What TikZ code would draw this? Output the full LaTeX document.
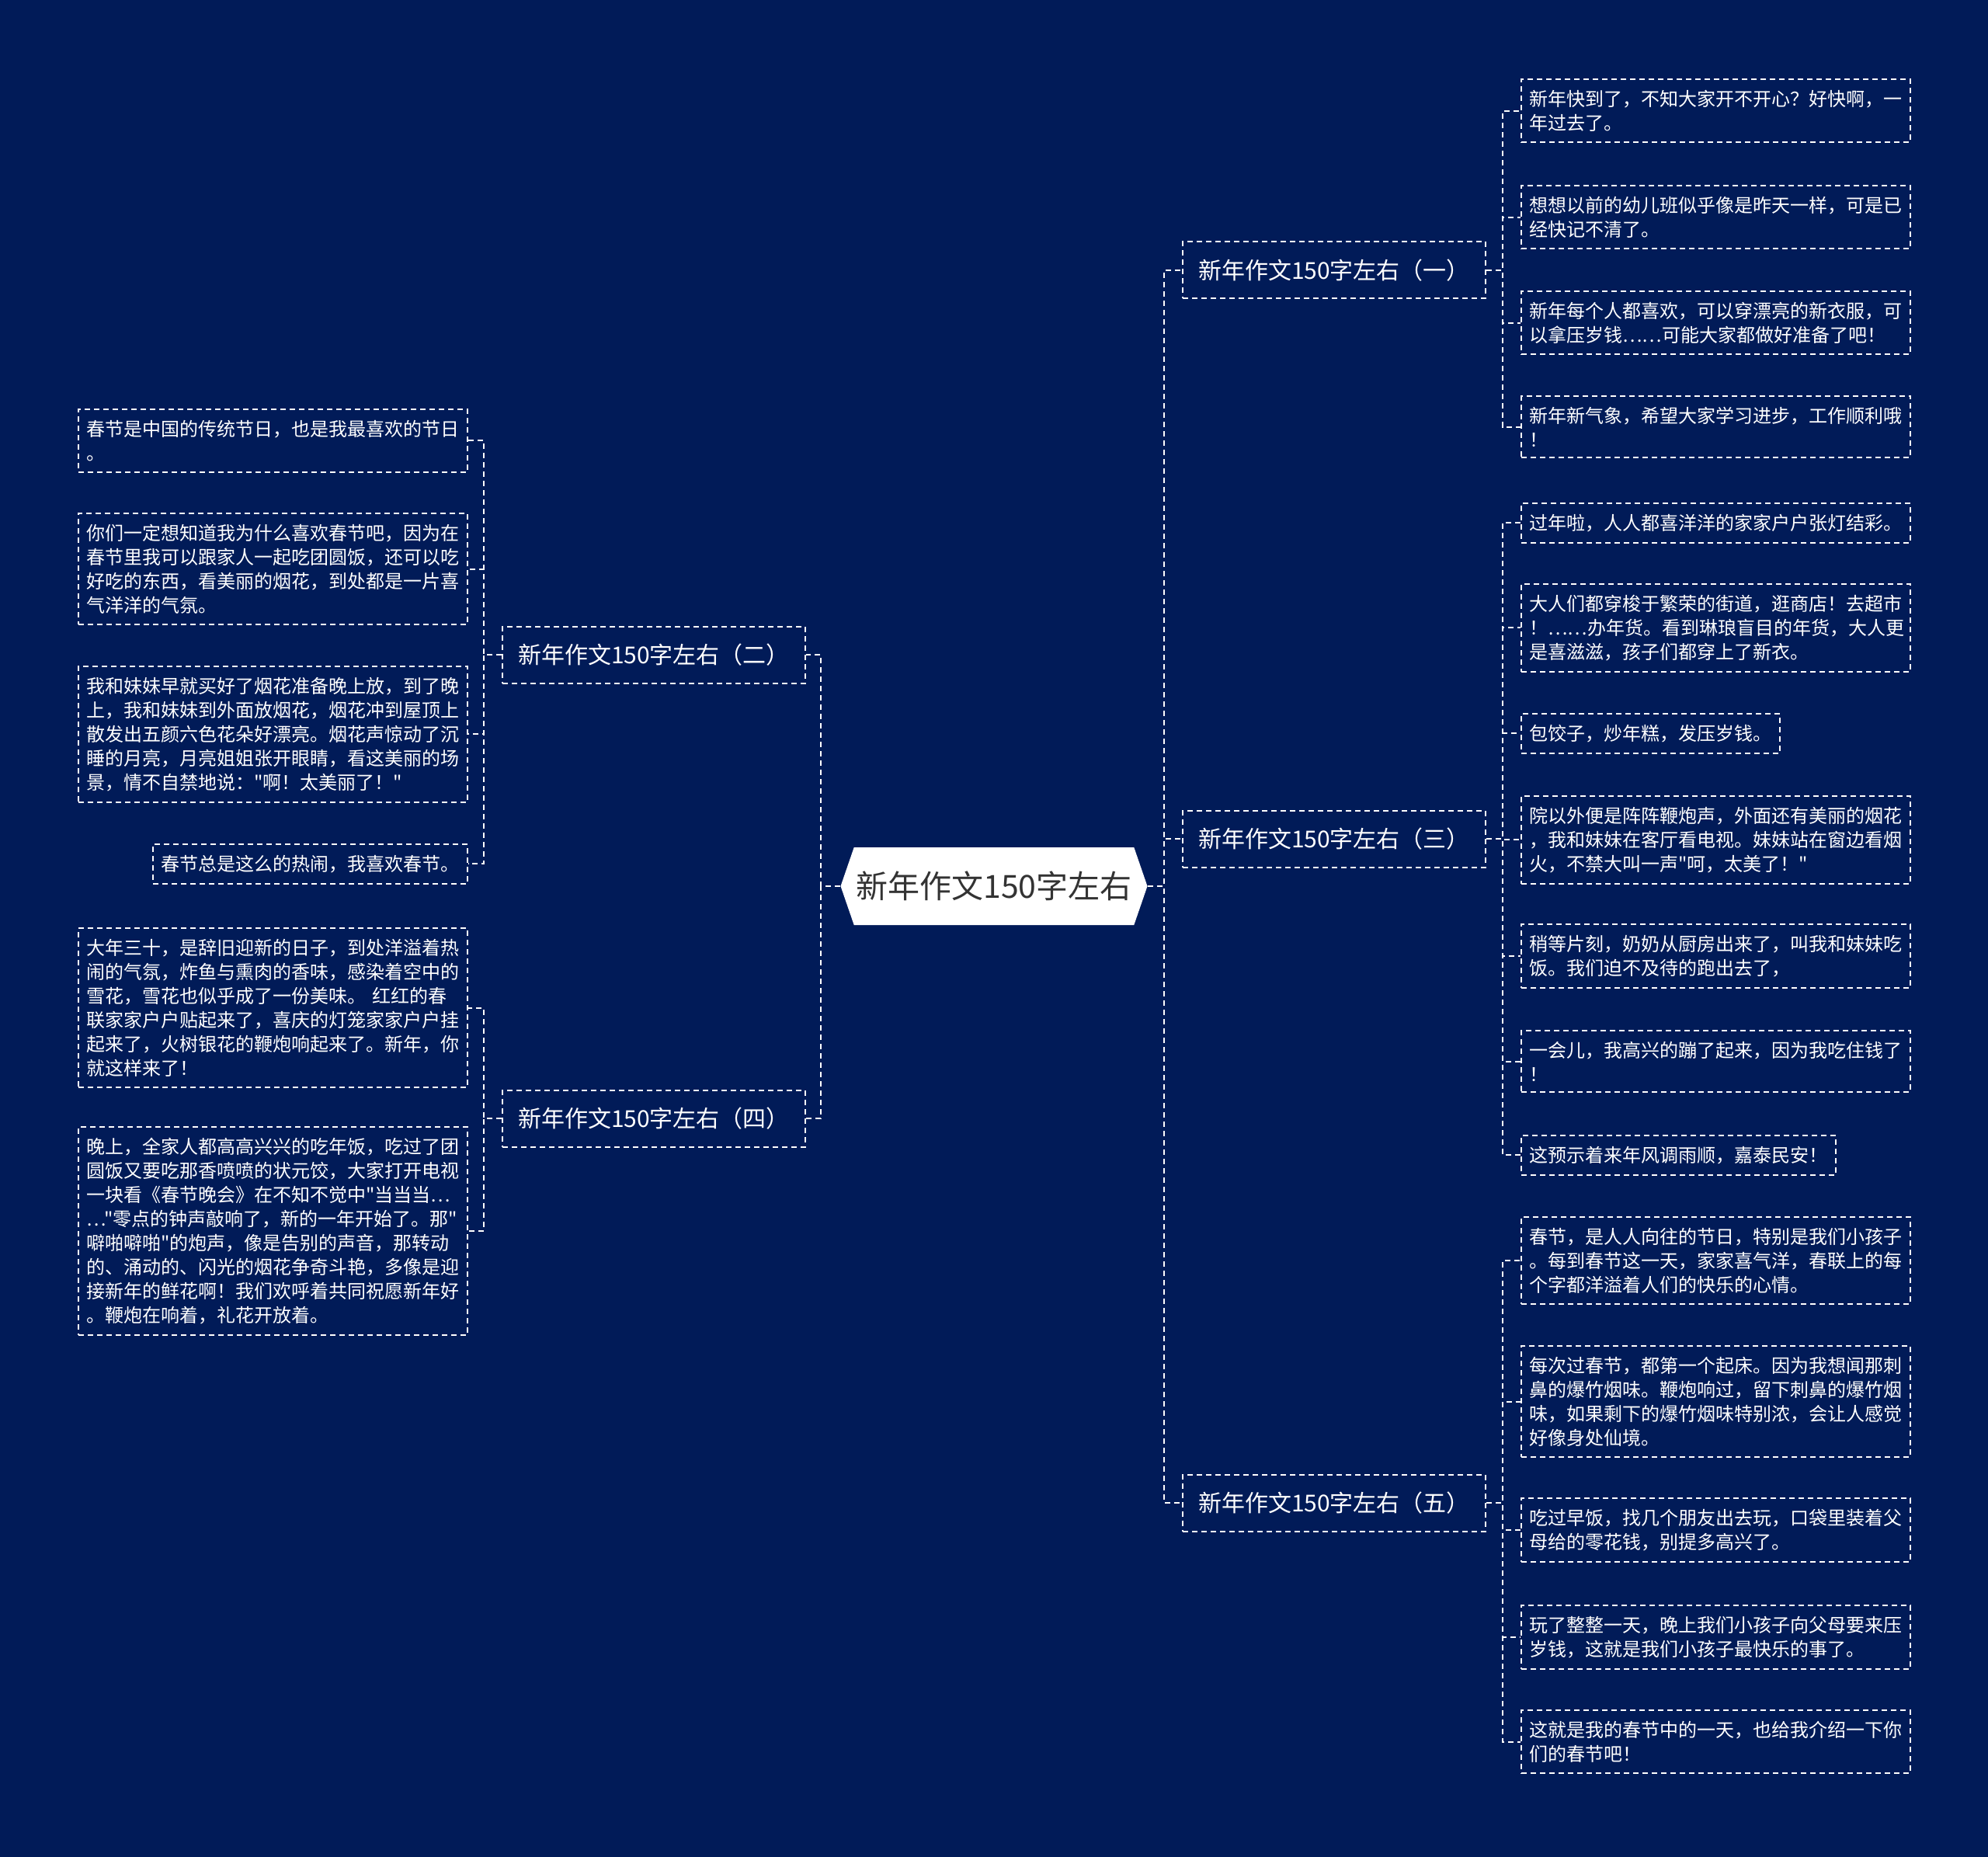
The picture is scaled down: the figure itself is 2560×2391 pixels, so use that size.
\documentclass[tikz,border=0pt]{standalone}
\usepackage{fontspec}
\newfontfamily\cjk{Noto Sans CJK SC}
\usetikzlibrary{shapes.symbols}
\definecolor{bgnavy}{RGB}{1,27,88}
\definecolor{rootgray}{RGB}{51,51,51}

\begin{document}
\begin{tikzpicture}[x=0.5pt, y=-0.5pt,
    link/.style={white, line width=1pt, dash pattern=on 3.5pt off 2.5pt},
    leaf/.style={draw=white, line width=1pt, dash pattern=on 3.5pt off 2.5pt, text=white,
        font=\cjk\fontsize{12pt}{15.5pt}\selectfont, inner xsep=5.25pt, inner ysep=7pt, align=left},
    wide/.style={leaf, text width=240pt},
    branch/.style={draw=white, line width=1pt, dash pattern=on 3.5pt off 2.5pt, text=white,
        font=\cjk\fontsize{15pt}{18pt}\selectfont, minimum width=195pt, minimum height=36.5pt, inner sep=0pt},
    rootbox/.style={signal, signal to=east and west, signal pointer angle=142, fill=white,
        text=rootgray, font=\cjk\fontsize{20.5pt}{24pt}\selectfont, minimum width=197.5pt,
        minimum height=50pt, inner sep=0pt}]
    \fill[bgnavy] (0,0) rectangle (2560,2391);

    \node[rootbox] (root) at (1280,1141) {新年作文150字左右};

    \node[branch] (one) at (1718,348) {新年作文150字左右（一）};
    \node[branch] (three) at (1718,1080) {新年作文150字左右（三）};
    \node[branch] (five) at (1718,1935) {新年作文150字左右（五）};
    \node[branch] (two) at (842,843) {新年作文150字左右（二）};
    \node[branch] (four) at (842,1440) {新年作文150字左右（四）};

    % right side, first branch
    \node[wide, anchor=north west] (a1) at (1958,101) {新年快到了，不知大家开不开心？好快啊，一\\年过去了。};
    \node[wide, anchor=north west] (a2) at (1958,238) {想想以前的幼儿班似乎像是昨天一样，可是已\\经快记不清了。};
    \node[wide, anchor=north west] (a3) at (1958,374) {新年每个人都喜欢，可以穿漂亮的新衣服，可\\以拿压岁钱……可能大家都做好准备了吧！};
    \node[wide, anchor=north west] (a4) at (1958,509) {新年新气象，希望大家学习进步，工作顺利哦\\！};

    % right side, third branch
    \node[wide, anchor=north west] (c1) at (1958,647) {过年啦，人人都喜洋洋的家家户户张灯结彩。};
    \node[wide, anchor=north west] (c2) at (1958,751) {大人们都穿梭于繁荣的街道，逛商店！去超市\\！……办年货。看到琳琅盲目的年货，大人更\\是喜滋滋，孩子们都穿上了新衣。};
    \node[leaf, anchor=north west] (c3) at (1958,918) {包饺子，炒年糕，发压岁钱。};
    \node[wide, anchor=north west] (c4) at (1958,1024) {院以外便是阵阵鞭炮声，外面还有美丽的烟花\\，我和妹妹在客厅看电视。妹妹站在窗边看烟\\火，不禁大叫一声"呵，太美了！"};
    \node[wide, anchor=north west] (c5) at (1958,1189) {稍等片刻，奶奶从厨房出来了，叫我和妹妹吃\\饭。我们迫不及待的跑出去了，};
    \node[wide, anchor=north west] (c6) at (1958,1326) {一会儿，我高兴的蹦了起来，因为我吃住钱了\\！};
    \node[leaf, anchor=north west] (c7) at (1958,1461) {这预示着来年风调雨顺，嘉泰民安！};

    % right side, fifth branch
    \node[wide, anchor=north west] (e1) at (1958,1566) {春节，是人人向往的节日，特别是我们小孩子\\。每到春节这一天，家家喜气洋，春联上的每\\个字都洋溢着人们的快乐的心情。};
    \node[wide, anchor=north west] (e2) at (1958,1732) {每次过春节，都第一个起床。因为我想闻那刺\\鼻的爆竹烟味。鞭炮响过，留下刺鼻的爆竹烟\\味，如果剩下的爆竹烟味特别浓，会让人感觉\\好像身处仙境。};
    \node[wide, anchor=north west] (e3) at (1958,1928) {吃过早饭，找几个朋友出去玩，口袋里装着父\\母给的零花钱，别提多高兴了。};
    \node[wide, anchor=north west] (e4) at (1958,2066) {玩了整整一天，晚上我们小孩子向父母要来压\\岁钱，这就是我们小孩子最快乐的事了。};
    \node[wide, anchor=north west] (e5) at (1958,2201) {这就是我的春节中的一天，也给我介绍一下你\\们的春节吧！};

    % left side, second branch
    \node[wide, anchor=north east] (b1) at (603,526) {春节是中国的传统节日，也是我最喜欢的节日\\。};
    \node[wide, anchor=north east] (b2) at (603,660) {你们一定想知道我为什么喜欢春节吧，因为在\\春节里我可以跟家人一起吃团圆饭，还可以吃\\好吃的东西，看美丽的烟花，到处都是一片喜\\气洋洋的气氛。};
    \node[wide, anchor=north east] (b3) at (603,857) {我和妹妹早就买好了烟花准备晚上放，到了晚\\上，我和妹妹到外面放烟花，烟花冲到屋顶上\\散发出五颜六色花朵好漂亮。烟花声惊动了沉\\睡的月亮，月亮姐姐张开眼睛，看这美丽的场\\景，情不自禁地说："啊！太美丽了！"};
    \node[leaf, anchor=north east] (b4) at (603,1086) {春节总是这么的热闹，我喜欢春节。};

    % left side, fourth branch
    \node[wide, anchor=north east] (d1) at (603,1194) {大年三十，是辞旧迎新的日子，到处洋溢着热\\闹的气氛，炸鱼与熏肉的香味，感染着空中的\\雪花，雪花也似乎成了一份美味。 红红的春\\联家家户户贴起来了，喜庆的灯笼家家户户挂\\起来了，火树银花的鞭炮响起来了。新年，你\\就这样来了！};
    \node[wide, anchor=north east] (d2) at (603,1450) {晚上，全家人都高高兴兴的吃年饭，吃过了团\\圆饭又要吃那香喷喷的状元饺，大家打开电视\\一块看《春节晚会》在不知不觉中"当当当…\\…"零点的钟声敲响了，新的一年开始了。那"\\噼啪噼啪"的炮声，像是告别的声音，那转动\\的、涌动的、闪光的烟花争奇斗艳，多像是迎\\接新年的鲜花啊！我们欢呼着共同祝愿新年好\\。鞭炮在响着，礼花开放着。};

    \foreach \n in {one,three,five} \draw[link] (root.east) -- ++(21,0) |- (\n.west);
    \foreach \n in {two,four} \draw[link] (root.west) -- ++(-25,0) |- (\n.east);
    \foreach \n in {a1,a2,a3,a4} \draw[link] (one.east) -- ++(21,0) |- (\n.west);
    \foreach \n in {c1,c2,c3,c4,c5,c6,c7} \draw[link] (three.east) -- ++(21,0) |- (\n.west);
    \foreach \n in {e1,e2,e3,e4,e5} \draw[link] (five.east) -- ++(21,0) |- (\n.west);
    \foreach \n in {b1,b2,b3,b4} \draw[link] (two.west) -- ++(-23,0) |- (\n.east);
    \foreach \n in {d1,d2} \draw[link] (four.west) -- ++(-23,0) |- (\n.east);
\end{tikzpicture}
\end{document}
